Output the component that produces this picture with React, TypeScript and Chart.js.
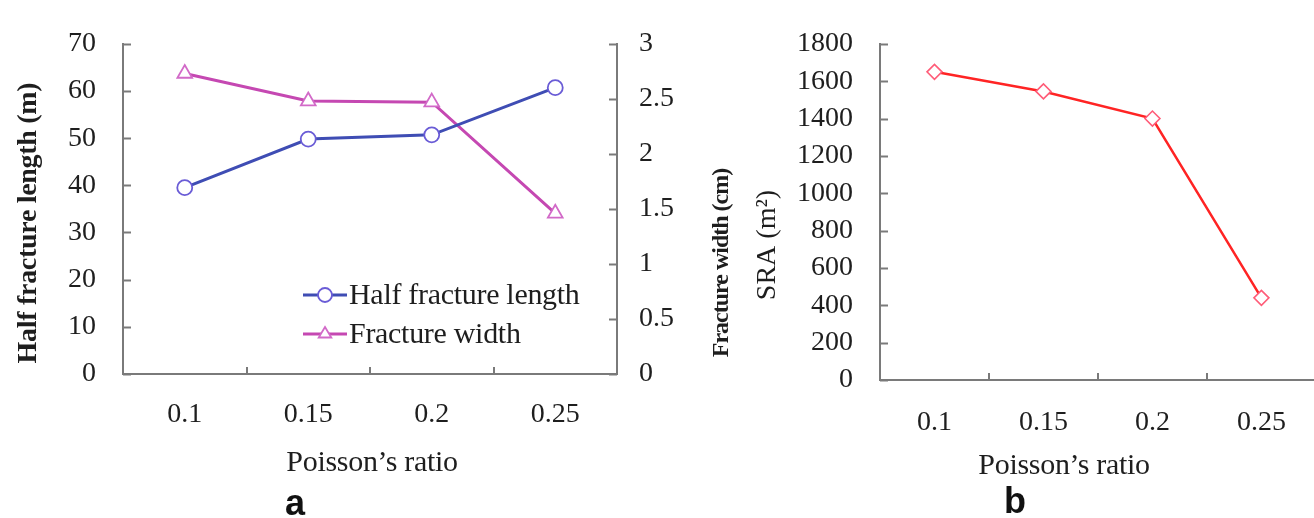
import React, { useEffect, useRef } from 'react';
import { Chart, registerables } from 'chart.js';

Chart.register(...registerables);

// ---- data ----
const poissonRatios = ['0.1', '0.15', '0.2', '0.25'];
const halfFractureLength = [39.5, 49.8, 50.7, 60.7]; // m
const fractureWidth = [2.73, 2.48, 2.47, 1.46]; // cm
const sraValues = [1650, 1545, 1400, 440]; // m²

const lengthAxis = { min: 0, max: 70, step: 10 };
const widthAxis = { min: 0, max: 3, step: 0.5 };
const sraAxis = { min: 0, max: 1800, step: 200 };

// ---- look ----
const SERIF = "'Liberation Serif', 'Times New Roman', serif";
const SANS = "'Liberation Sans', Arial, sans-serif";
const TEXT = '#1e1e1e';
const AXIS = '#7a7a7a';
const TICK_FONT = { family: SERIF, size: 28 };

const PAGE_W = 1314;
const PAGE_H = 518;
const A_LEFT = 0;
const A_WIDTH = 745;
const B_LEFT = 745;
const B_WIDTH = 580;

// short tick marks pointing into the plot area
const innerTicks = {
  id: 'innerTicks',
  afterDraw(chart: any, _args: any, opts: any) {
    const { ctx, chartArea } = chart;
    const len = opts.length ?? 8;
    ctx.save();
    ctx.strokeStyle = opts.color ?? AXIS;
    ctx.lineWidth = opts.width ?? 2;
    Object.values(chart.scales).forEach((s: any) => {
      if (s.axis === 'y') {
        const left = s.position === 'left';
        const x0 = left ? chartArea.left : chartArea.right;
        const dir = left ? 1 : -1;
        s.ticks.forEach((t: any) => {
          const y = Math.round(s.getPixelForValue(t.value)) + 0.5;
          ctx.beginPath();
          ctx.moveTo(x0, y);
          ctx.lineTo(x0 + dir * len, y);
          ctx.stroke();
        });
      } else {
        for (let i = 1; i < s.ticks.length; i++) {
          const x = Math.round((s.getPixelForTick(i - 1) + s.getPixelForTick(i)) / 2);
          ctx.beginPath();
          ctx.moveTo(x, chartArea.bottom);
          ctx.lineTo(x, chartArea.bottom - (opts.xLength ?? 7));
          ctx.stroke();
        }
      }
    });
    ctx.restore();
  },
};

// free-standing texts: axis titles and panel letters
const panelText = {
  id: 'panelText',
  afterDraw(chart: any, _args: any, opts: any) {
    const { ctx } = chart;
    (opts.items || []).forEach((it: any) => {
      ctx.save();
      ctx.translate(it.x, it.y);
      if (it.rotation) ctx.rotate(it.rotation);
      ctx.font = it.font;
      if (it.spacing) (ctx as any).letterSpacing = it.spacing;
      ctx.fillStyle = it.color ?? TEXT;
      ctx.textAlign = 'center';
      ctx.textBaseline = it.baseline ?? 'middle';
      ctx.fillText(it.text, 0, 0);
      ctx.restore();
    });
  },
};

function drawMarker(ctx: CanvasRenderingContext2D, style: string, x: number, y: number, r: number) {
  ctx.beginPath();
  if (style === 'triangle') {
    const h = r * 1.5;
    ctx.moveTo(x, y - r);
    ctx.lineTo(x + r * 0.9, y - r + h);
    ctx.lineTo(x - r * 0.9, y - r + h);
    ctx.closePath();
  } else {
    ctx.arc(x, y, r, 0, Math.PI * 2);
  }
  ctx.fill();
  ctx.stroke();
}

// legend drawn inside the plot area
const insideLegend = {
  id: 'insideLegend',
  afterDraw(chart: any, _args: any, opts: any) {
    const { ctx } = chart;
    chart.data.datasets.forEach((ds: any, i: number) => {
      const y = opts.y + i * opts.rowGap;
      const x0 = opts.x;
      const x1 = opts.x + opts.lineLen;
      ctx.save();
      ctx.strokeStyle = ds.borderColor;
      ctx.lineWidth = ds.borderWidth;
      ctx.beginPath();
      ctx.moveTo(x0, y);
      ctx.lineTo(x1, y);
      ctx.stroke();
      ctx.strokeStyle = ds.pointBorderColor;
      ctx.fillStyle = ds.pointBackgroundColor;
      ctx.lineWidth = ds.pointBorderWidth;
      drawMarker(ctx, ds.pointStyle, (x0 + x1) / 2, y, opts.markerRadius);
      ctx.font = opts.font;
      (ctx as any).letterSpacing = opts.spacing ?? '0px';
      ctx.fillStyle = TEXT;
      ctx.textAlign = 'left';
      ctx.textBaseline = 'middle';
      ctx.fillText(ds.label, x1 + 2, y + 1);
      ctx.restore();
    });
  },
};

const yTicks = (step: number, padding: number) => ({
  stepSize: step,
  padding,
  color: TEXT,
  font: TICK_FONT,
  callback: (v: any) => String(v),
});

const baseScale = {
  grid: { display: false, drawTicks: false },
  border: { display: true, color: AXIS, width: 2 },
};

function makeChartA(canvas: HTMLCanvasElement) {
  return new Chart(canvas, {
    type: 'line',
    data: {
      labels: poissonRatios,
      datasets: [
        {
          label: 'Half fracture length',
          data: halfFractureLength,
          yAxisID: 'y',
          borderColor: '#3f4db4',
          borderWidth: 3,
          pointStyle: 'circle',
          pointRadius: 7.5,
          pointBorderWidth: 1.8,
          pointBorderColor: '#6a5cd6',
          pointBackgroundColor: '#ffffff',
          tension: 0,
        },
        {
          label: 'Fracture width',
          data: fractureWidth,
          yAxisID: 'y1',
          borderColor: '#c548b2',
          borderWidth: 3,
          pointStyle: 'triangle',
          pointRadius: 8.5,
          pointBorderWidth: 1.8,
          pointBorderColor: '#d26ac8',
          pointBackgroundColor: '#ffffff',
          tension: 0,
        },
      ],
    },
    options: {
      responsive: false,
      animation: false,
      layout: { padding: { top: 25, left: 0, right: 0, bottom: 0 } },
      scales: {
        x: {
          ...baseScale,
          type: 'category',
          offset: true,
          ticks: { padding: 24, color: TEXT, font: TICK_FONT },
          afterFit: (s: any) => { s.height = PAGE_H - 374; },
        },
        y: {
          ...baseScale,
          position: 'left',
          min: lengthAxis.min,
          max: lengthAxis.max,
          ticks: yTicks(lengthAxis.step, 27),
          afterFit: (s: any) => { s.width = 123; },
        },
        y1: {
          ...baseScale,
          position: 'right',
          min: widthAxis.min,
          max: widthAxis.max,
          ticks: yTicks(widthAxis.step, 22),
          afterFit: (s: any) => { s.width = A_WIDTH - 617; },
        },
      } as any,
      plugins: {
        legend: { display: false },
        tooltip: { enabled: false },
        innerTicks: { length: 8, xLength: 7, color: AXIS, width: 2 },
        insideLegend: {
          x: 303 - A_LEFT,
          y: 295,
          rowGap: 39,
          lineLen: 44,
          markerRadius: 7,
          font: `30px ${SERIF}`,
          spacing: '-0.3px',
        },
        panelText: {
          items: [
            { text: 'Half fracture length (m)', x: 29 - A_LEFT, y: 223, rotation: -Math.PI / 2, font: `bold 28px ${SERIF}`, spacing: '-0.3px' },
            { text: 'Fracture width (cm)', x: 722 - A_LEFT, y: 263, rotation: -Math.PI / 2, font: `bold 24px ${SERIF}`, spacing: '-1px' },
            { text: 'Poisson’s ratio', x: 372 - A_LEFT, y: 463, font: `30px ${SERIF}`, spacing: '-0.3px' },
            { text: 'a', x: 295 - A_LEFT, y: 515, baseline: 'alphabetic', font: `bold 36px ${SANS}`, color: '#111' },
          ],
        },
      } as any,
    },
    plugins: [innerTicks, insideLegend, panelText],
  });
}

function makeChartB(canvas: HTMLCanvasElement) {
  return new Chart(canvas, {
    type: 'line',
    data: {
      labels: poissonRatios,
      datasets: [
        {
          label: 'SRA',
          data: sraValues,
          borderColor: '#ff2424',
          borderWidth: 2.5,
          pointStyle: 'rectRot',
          pointRadius: 7.5,
          pointBorderWidth: 1.6,
          pointBorderColor: '#ff5c78',
          pointBackgroundColor: '#ffffff',
          tension: 0,
        },
      ],
    },
    options: {
      responsive: false,
      animation: false,
      layout: { padding: { top: 34, left: 0, right: 0, bottom: 0 } },
      scales: {
        x: {
          ...baseScale,
          type: 'category',
          offset: true,
          ticks: { padding: 26, color: TEXT, font: TICK_FONT },
          afterFit: (s: any) => { s.height = PAGE_H - 380; },
        },
        y: {
          ...baseScale,
          position: 'left',
          min: sraAxis.min,
          max: sraAxis.max,
          ticks: yTicks(sraAxis.step, 27),
          afterFit: (s: any) => { s.width = 880 - B_LEFT; },
        },
      } as any,
      plugins: {
        legend: { display: false },
        tooltip: { enabled: false },
        innerTicks: { length: 8, xLength: 7, color: AXIS, width: 2 },
        panelText: {
          items: [
            { text: 'SRA (m²)', x: 768 - B_LEFT, y: 245, rotation: -Math.PI / 2, font: `28px ${SERIF}` },
            { text: 'Poisson’s ratio', x: 1064 - B_LEFT, y: 466, font: `30px ${SERIF}`, spacing: '-0.3px' },
            { text: 'b', x: 1015 - B_LEFT, y: 513, baseline: 'alphabetic', font: `bold 36px ${SANS}`, color: '#111' },
          ],
        },
      } as any,
    },
    plugins: [innerTicks, panelText],
  });
}

export default function App() {
  const refA = useRef<HTMLCanvasElement>(null);
  const refB = useRef<HTMLCanvasElement>(null);

  useEffect(() => {
    if (!refA.current || !refB.current) return;
    const a = makeChartA(refA.current);
    const b = makeChartB(refB.current);
    return () => {
      a.destroy();
      b.destroy();
    };
  }, []);

  return (
    <div
      style={{
        position: 'fixed',
        left: 0,
        top: 0,
        width: PAGE_W,
        height: PAGE_H,
        overflow: 'hidden',
        background: '#ffffff',
      }}
    >
      <canvas
        ref={refA}
        width={A_WIDTH}
        height={PAGE_H}
        style={{ position: 'absolute', left: A_LEFT, top: 0, width: A_WIDTH, height: PAGE_H }}
      />
      <canvas
        ref={refB}
        width={B_WIDTH}
        height={PAGE_H}
        style={{ position: 'absolute', left: B_LEFT, top: 0, width: B_WIDTH, height: PAGE_H }}
      />
    </div>
  );
}
